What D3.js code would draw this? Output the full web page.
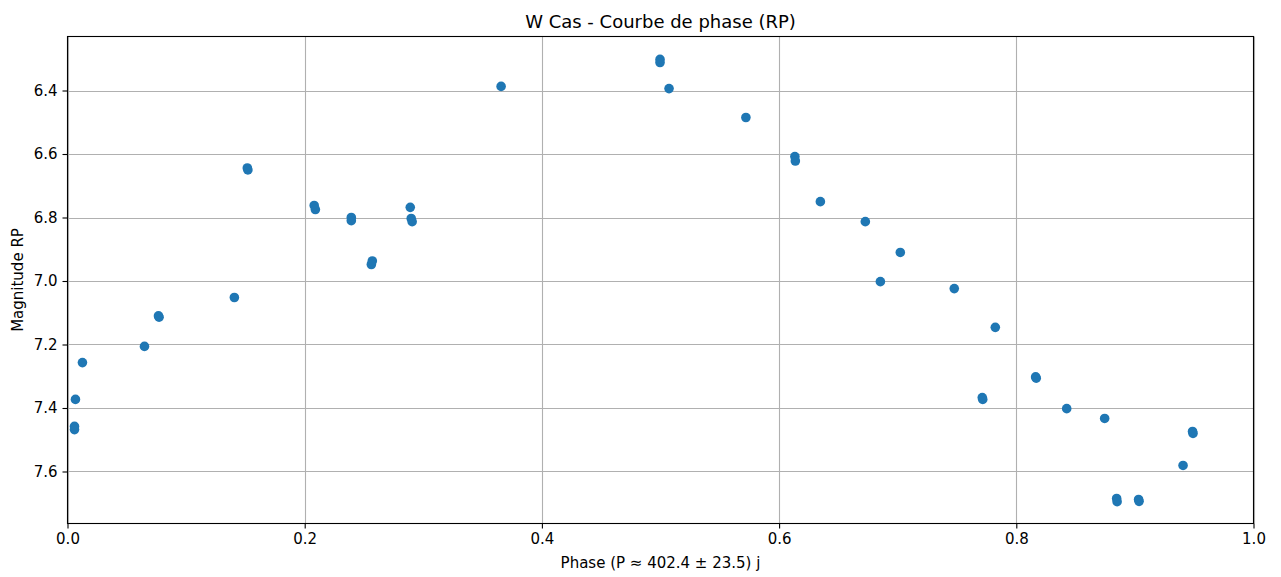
<!DOCTYPE html>
<html><head><meta charset="utf-8">
<script src="https://cdn.jsdelivr.net/npm/d3@7"></script>
<style>body{margin:0;background:#fff;}svg{display:block;font-family:"DejaVu Sans",sans-serif;}</style>
</head><body>
<svg id="c" width="1281" height="577"></svg>
<script>
const phase = [0.0067,0.0059,0.0059,0.0126,0.0649,0.0767,0.0772,0.1407,0.1516,0.1521,0.2080,0.2090,0.2393,0.2393,0.2570,0.2562,0.2890,0.2898,0.2906,0.3656,0.4996,0.4996,0.5072,0.5720,0.6133,0.6137,0.6348,0.6727,0.7022,0.6854,0.7477,0.7823,0.7713,0.7717,0.8163,0.8168,0.8425,0.8745,0.8846,0.8850,0.9031,0.9035,0.9406,0.9486,0.9490];
const mag = [7.373,7.458,7.468,7.257,7.206,7.110,7.114,7.052,6.644,6.650,6.762,6.775,6.800,6.810,6.937,6.948,6.768,6.803,6.813,6.387,6.302,6.312,6.394,6.485,6.608,6.622,6.750,6.813,6.910,7.002,7.024,7.146,7.367,7.373,7.302,7.306,7.402,7.433,7.685,7.695,7.688,7.694,7.581,7.474,7.480];
const xTicks = [0,0.2,0.4,0.6,0.8,1.0];
const yTicks = [6.4,6.6,6.8,7.0,7.2,7.4,7.6];
const title = "W Cas - Courbe de phase (RP)";
const xLabel = "Phase (P ≈ 402.4 ± 23.5) j";
const yLabel = "Magnitude RP";

const svg = d3.select("#c");
const L=67.5, R=1253.5, T=36.5, B=523.5;
const x = d3.scaleLinear().domain([0,1]).range([L,R]);
const y = d3.scaleLinear().domain([6.2299,7.7638]).range([T,B]);
const g = svg.append("g");
g.selectAll(".gx").data(xTicks).enter().append("line")
 .attr("x1",d=>Math.round(x(d))+0.5).attr("x2",d=>Math.round(x(d))+0.5).attr("y1",T).attr("y2",B)
 .attr("stroke","#b0b0b0").attr("stroke-width",1.1);
g.selectAll(".gy").data(yTicks).enter().append("line")
 .attr("y1",d=>Math.round(y(d))+0.5).attr("y2",d=>Math.round(y(d))+0.5).attr("x1",L).attr("x2",R)
 .attr("stroke","#b0b0b0").attr("stroke-width",1.1);
g.selectAll("circle").data(phase).enter().append("circle")
 .attr("cx",(d)=>x(d)).attr("cy",(d,i)=>y(mag[i])).attr("r",4.8).attr("fill","#1f77b4");
const xa = svg.append("g").attr("transform",`translate(0,${B})`)
 .call(d3.axisBottom(x).tickValues(xTicks).tickFormat(d3.format(".1f")).tickSizeOuter(0).tickSizeInner(5).tickPadding(5));
const ya = svg.append("g").attr("transform",`translate(${L},0)`)
 .call(d3.axisLeft(y).tickValues(yTicks).tickFormat(d3.format(".1f")).tickSizeOuter(0).tickSizeInner(5).tickPadding(5));
[xa,ya].forEach(a=>{a.select(".domain").remove();a.selectAll("text").attr("font-size","15px").attr("fill","#000").attr("font-family","DejaVu Sans");a.selectAll("line").attr("stroke","#000").attr("stroke-width",1.1);});
svg.append("rect").attr("x",L).attr("y",T).attr("width",R-L).attr("height",B-T).attr("fill","none").attr("stroke","#000").attr("stroke-width",1.1);
svg.append("text").attr("x",(L+R)/2).attr("y",28).attr("text-anchor","middle").attr("font-size","18px").text(title);
svg.append("text").attr("x",(L+R)/2).attr("y",568).attr("text-anchor","middle").attr("font-size","15px").text(xLabel);
svg.append("text").attr("transform",`translate(23,${(T+B)/2}) rotate(-90)`).attr("text-anchor","middle").attr("font-size","15px").text(yLabel);
</script>
</body></html>
